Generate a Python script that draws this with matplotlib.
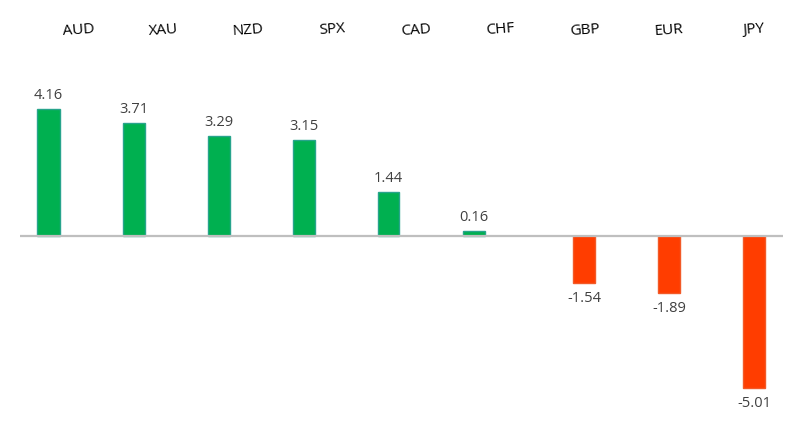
import matplotlib
matplotlib.use("Agg")
import matplotlib.pyplot as plt

categories = ["AUD", "XAU", "NZD", "SPX", "CAD", "CHF", "GBP", "EUR", "JPY"]
values = [4.16, 3.71, 3.29, 3.15, 1.44, 0.16, -1.54, -1.89, -5.01]
labels = ["4.16", "3.71", "3.29", "3.15", "1.44", "0.16", "-1.54", "-1.89", "-5.01"]

W, H = 811, 432
fig = plt.figure(figsize=(W / 100, H / 100), dpi=100)
ax = fig.add_axes([0, 0, 1, 1])

# pixel mapping helpers (layout only)
x0, dx = 48.5, 85.0       # pixel of first positive bar centre, category step
y0, dy = 235.7, 30.4      # pixel of zero line, pixels per unit
ax.set_xlim((0 - x0) / dx, (W - x0) / dx)
ax.set_ylim((y0 - H) / dy, y0 / dy)
ax.axis("off")

neg_shift = 25.5 / dx
bw = 22 / dx
for i, (v, lab) in enumerate(zip(values, labels)):
    if v >= 0:
        x = i
        fc, ec = "#00B050", "#28A48C"
    else:
        x = i + neg_shift
        fc, ec = "#FF3D00", "#F25A28"
    ax.bar(x, v, width=bw, color=fc, edgecolor=ec, linewidth=1.0, zorder=2)
    if v >= 0:
        ax.text(x, v + 6 / dy, lab, ha="center", va="bottom", fontsize=10.5,
                family="Open Sans", color="#404040")
    else:
        ax.text(x, v - 8 / dy, lab, ha="center", va="top", fontsize=10.5,
                family="Open Sans", color="#404040")

# zero line
ax.plot([(20 - x0) / dx, (783 - x0) / dx], [0, 0], color="#BFBFBF", lw=1.6,
        zorder=3, solid_capstyle="butt")

# category labels across the top
lab_x0, lab_dx = 79.0, 84.3
for i, c in enumerate(categories):
    px = lab_x0 + lab_dx * i
    ax.text((px - x0) / dx, (y0 - 30) / dy, c, ha="center", va="center",
            fontsize=11, family="Open Sans", color="#000000", rotation=4)

fig.savefig("out.png", dpi=100)
